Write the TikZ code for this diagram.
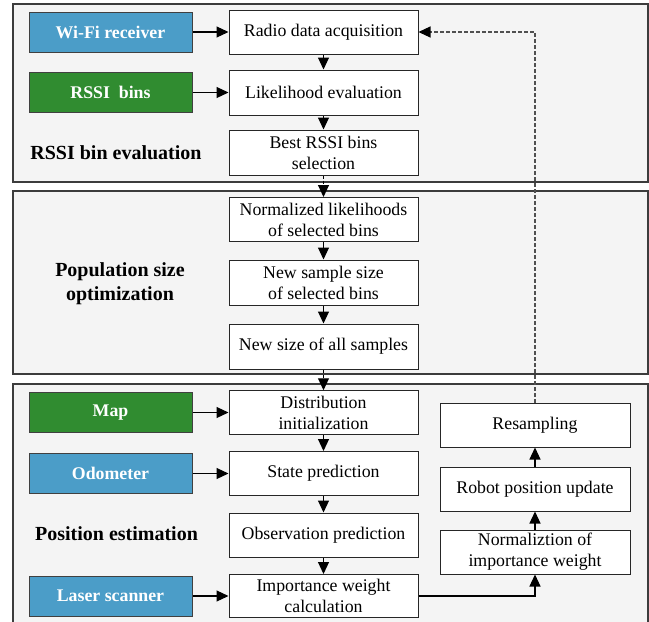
\documentclass[tikz,border=0pt]{standalone}
\usepackage{fontspec}
\setmainfont{Liberation Serif}
\usetikzlibrary{arrows.meta}
\definecolor{cblue}{RGB}{75,157,200}
\definecolor{cgreen}{RGB}{48,140,48}
\definecolor{panelfill}{RGB}{244,244,244}
\definecolor{panelline}{RGB}{60,60,60}
\definecolor{fbline}{RGB}{80,80,80}
\tikzset{
  x=1pt,y=-1pt,
  panel/.style={draw=panelline,fill=panelfill,line width=1.5pt},
  wbox/.style={draw=black!85,fill=white,line width=1pt,minimum width=189pt,align=center,
    font=\fontsize{17.8}{21}\selectfont,inner sep=2pt},
  cbox/.style={draw=black!75,line width=1pt,minimum width=163pt,minimum height=40pt,
    text=white,font=\fontsize{17.8}{21}\selectfont\bfseries},
  blab/.style={font=\fontsize{20}{23.5}\selectfont\bfseries,align=center},
  tip/.style={-{Triangle[length=12pt,width=11pt]}},
  arr/.style={draw=black,line width=1.1pt,tip},
  darr/.style={draw=black,line width=1.1pt,dash pattern=on 3pt off 2pt,tip},
  fb/.style={draw=fbline,line width=1.1pt,dash pattern=on 4pt off 2pt,
    -{Triangle[length=12pt,width=11pt,fill=black,color=black]}},
}
\begin{document}
\begin{tikzpicture}
\useasboundingbox (0,0) rectangle (649,622);
\fill[white] (0,0) rectangle (649,622);
% panels
\draw[panel] (13,4) rectangle (648,182);
\draw[panel] (13,191) rectangle (648,374);
\draw[panel] (13,384) rectangle (648,640);
% panel 1
\node[cbox,fill=cblue] (wifi) at (110.5,32) {Wi-Fi receiver};
\node[cbox,fill=cgreen] (rssib) at (110.5,92.5) {RSSI\ \ bins};
\node[wbox,minimum height=44pt] (radio) at (323.5,32) {Radio data acquisition};
\node[wbox,minimum height=45pt] (like) at (323.5,92.5) {Likelihood evaluation};
\node[wbox,minimum height=45pt] (best) at (323.5,152.5) {Best RSSI bins\\selection};
\node[blab] (lab1) at (116,153) {RSSI bin evaluation};
% panel 2
\node[wbox,minimum height=44pt] (norm) at (323.5,219.5) {Normalized likelihoods\\of selected bins};
\node[wbox,minimum height=45pt] (nss) at (323.5,282.5) {New sample size\\of selected bins};
\node[wbox,minimum height=45pt] (nsa) at (323.5,346.5) {New size of all samples};
\node[blab] (lab2) at (120,283.5) {Population size\\optimization};
% panel 3
\node[cbox,fill=cgreen] (map) at (110.5,412.5) {Map};
\node[cbox,fill=cblue] (odo) at (110.5,473.5) {Odometer};
\node[cbox,fill=cblue] (laser) at (110.5,596) {Laser scanner};
\node[wbox,minimum height=43.5pt] (dist) at (323.5,412.5) {Distribution\\initialization};
\node[wbox,minimum height=44pt] (state) at (323.5,473.5) {State prediction};
\node[wbox,minimum height=44pt] (obs) at (323.5,535) {Observation prediction};
\node[wbox,minimum height=43pt] (imp) at (323.5,596) {Importance weight\\calculation};
\node[wbox,minimum width=190pt,minimum height=44pt] (resamp) at (535,425) {Resampling};
\node[wbox,minimum width=190pt,minimum height=44pt] (robot) at (535,489) {Robot position update};
\node[wbox,minimum width=190pt,minimum height=44pt] (normi) at (535,552) {Normaliztion of\\importance weight};
\node[blab] (lab3) at (116.5,534) {Position estimation};
% connectors
\draw[arr] (wifi) -- (radio);
\draw[arr] (rssib) -- (like);
\draw[arr] (radio) -- (like);
\draw[arr] (like) -- (best);
\draw[darr] (best) -- (norm);
\draw[arr] (norm) -- (nss);
\draw[arr] (nss) -- (nsa);
\draw[darr] (nsa) -- (dist);
\draw[arr] (map) -- (dist);
\draw[arr] (odo) -- (state);
\draw[arr] (laser) -- (imp);
\draw[arr] (dist) -- (state);
\draw[arr] (state) -- (obs);
\draw[arr] (obs) -- (imp);
\draw[arr] (imp.east) -| (normi.south);
\draw[arr] (normi) -- (robot);
\draw[arr] (robot) -- (resamp);
\draw[fb] (resamp.north) -- (resamp.north |- radio.east) -- (radio.east);
\end{tikzpicture}
\end{document}
